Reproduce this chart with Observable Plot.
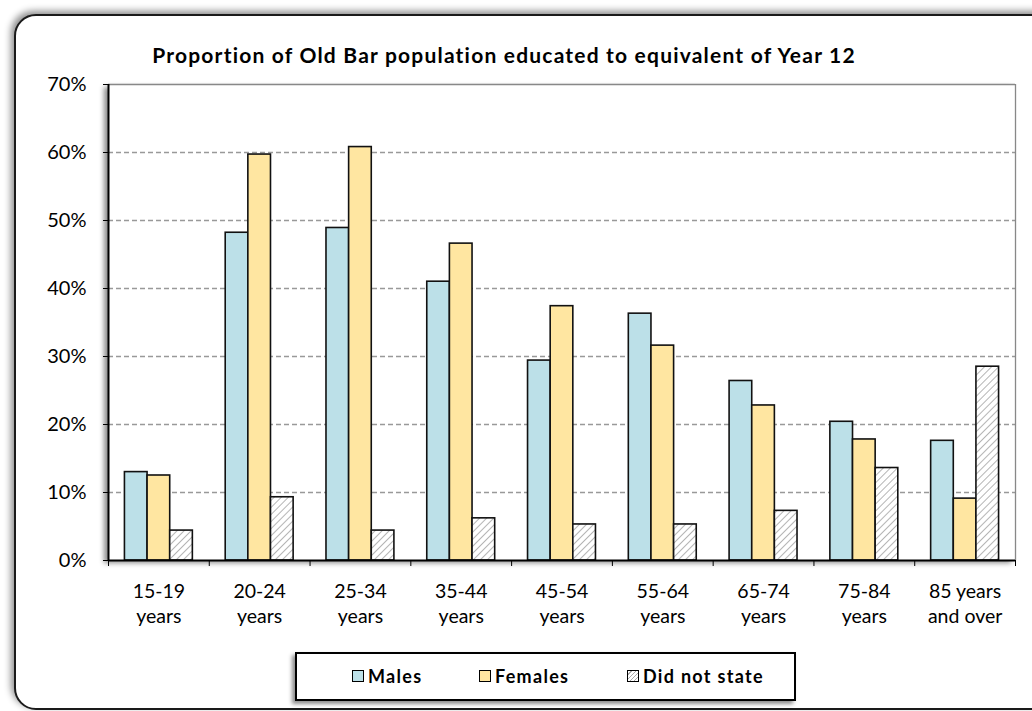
<!DOCTYPE html>
<html>
<head>
<meta charset="utf-8">
<script src="https://cdn.jsdelivr.net/npm/d3@7"></script>
<script src="https://cdn.jsdelivr.net/npm/@observablehq/plot@0.6"></script>
<style>
  html, body { margin: 0; padding: 0; background: #fff; overflow: hidden; }
  body { width: 1032px; height: 711px; position: relative; font-family: Lato, "Open Sans", sans-serif; }
  #frame { position: absolute; left: 14px; top: 14px; width: 1060px; height: 692px; border: 2.5px solid #1a1a1a; border-radius: 22px; box-shadow: -3px -3px 7px rgba(0,0,0,0.45); background: #fff; }
  #plotshadow { position: absolute; left: 108px; top: 84px; width: 907px; height: 476px; box-shadow: -4px 3px 5px rgba(0,0,0,0.45); background: #fff; }
  #chart { position: absolute; left: 0; top: 0; }
  #title { position: absolute; left: 0; top: 42px; width: 1008px; text-align: center; font-weight: 700; font-size: 21px; color: #000; letter-spacing: 1.2px; }
  #legend { position: absolute; left: 295px; top: 652px; width: 497px; height: 45px; border: 2px solid #000; background: #fff; box-shadow: -3px 3px 4px rgba(0,0,0,0.45); }
  .item { position: absolute; top: 11px; font-weight: 700; font-size: 18px; letter-spacing: 1.3px; display: flex; align-items: center; }
  .sw { width: 10px; height: 10px; border: 1px solid #000; margin-right: 4px; display: inline-block; }
</style>
</head>
<body>
<div id="frame"></div>
<div id="plotshadow"></div>
<div id="chart"></div>
<div id="title">Proportion of Old Bar population educated to equivalent of Year 12</div>
<div id="legend"></div>
<script>
const categories = ["15-19\nyears", "20-24\nyears", "25-34\nyears", "35-44\nyears", "45-54\nyears", "55-64\nyears", "65-74\nyears", "75-84\nyears", "85 years\nand over"];
const series = ["Males", "Females", "Did not state"];
const males = [13.0, 48.2, 48.9, 41.0, 29.4, 36.3, 26.4, 20.4, 17.6];
const females = [12.5, 59.7, 60.8, 46.6, 37.4, 31.6, 22.8, 17.8, 9.1];
const didNotState = [4.4, 9.3, 4.4, 6.2, 5.3, 5.3, 7.3, 13.6, 28.5];
const yTicks = [0, 10, 20, 30, 40, 50, 60, 70];

const colors = {"Males": "#BCE0E8", "Females": "#FFE6A1", "Did not state": "url(#hatch)"};
const values = [males, females, didNotState];

const rows = [];
series.forEach((s, si) => values[si].forEach((v, i) => rows.push({series: s, si, i, value: v / 100})));

// group layout within each category band (fraction of band)
const outer = 0.163, barW = (1 - 2 * outer) / 3;

const font = "Lato, 'Open Sans', sans-serif";

const plot = Plot.plot({
  width: 1032,
  height: 711,
  marginLeft: 108,
  marginRight: 17,
  marginTop: 84,
  marginBottom: 151,
  style: {background: "transparent", fontFamily: font, fontSize: "20px", color: "#000"},
  x: {type: "linear", domain: [0, categories.length], ticks: d3.range(categories.length + 1), tickFormat: () => "", tickSize: 6, label: null},
  y: {type: "linear", domain: [0, 0.7], ticks: yTicks.map(t => t / 100), tickFormat: d3.format(".0%"), tickSize: 5, tickPadding: 17, label: null},
  marks: [
    Plot.ruleY(yTicks.filter(t => t > 0 && t < 70).map(t => t / 100), {stroke: "#999", strokeWidth: 1.3, strokeDasharray: "5,3"}),
    Plot.ruleY([0.7], {stroke: "#888", strokeWidth: 1.3}),
    Plot.ruleX([categories.length], {stroke: "#888", strokeWidth: 1.3}),
    Plot.rectY(rows, {
      x1: d => d.i + outer + d.si * barW,
      x2: d => d.i + outer + (d.si + 1) * barW,
      y1: 0,
      y2: "value",
      fill: d => colors[d.series],
      stroke: "#111",
      strokeWidth: 1.6
    }),
    Plot.ruleY([0], {stroke: "#000", strokeWidth: 2}),
    Plot.ruleX([0], {stroke: "#000", strokeWidth: 2}),
    // x labels
    Plot.text(categories, {x: (d, i) => i + 0.5, y: 0, text: d => d, lineAnchor: "top", dy: 19, lineHeight: 1.3, fill: "#000", fontSize: 19.5})
  ]
});

// hatch pattern
const svg = d3.select(plot);
const defs = svg.insert("defs", ":first-child");
const pat = defs.append("pattern").attr("id", "hatch").attr("patternUnits", "userSpaceOnUse").attr("width", 5).attr("height", 5).attr("patternTransform", "rotate(45)");
pat.append("rect").attr("width", 5).attr("height", 5).attr("fill", "#fff");
pat.append("line").attr("x1", 0).attr("y1", 0).attr("x2", 0).attr("y2", 5).attr("stroke", "#b5b5b5").attr("stroke-width", 2);
svg.selectAll("[aria-label^='x-axis'] line, [aria-label^='y-axis'] line, g[aria-label$='axis'] line").attr("stroke", "#000").attr("stroke-width", 1.5);

document.getElementById("chart").appendChild(plot);

// legend
const legend = document.getElementById("legend");
const lx = [55, 182, 330];
series.forEach((s, i) => {
  const item = document.createElement("div");
  item.className = "item";
  item.style.left = lx[i] + "px";
  const sw = document.createElement("span");
  sw.className = "sw";
  if (s === "Did not state") {
    sw.style.background = "repeating-linear-gradient(135deg, #fff 0 2px, #aaa 2px 3px)";
  } else {
    sw.style.background = colors[s];
  }
  item.appendChild(sw);
  item.appendChild(document.createTextNode(s));
  legend.appendChild(item);
});
</script>
</body>
</html>
